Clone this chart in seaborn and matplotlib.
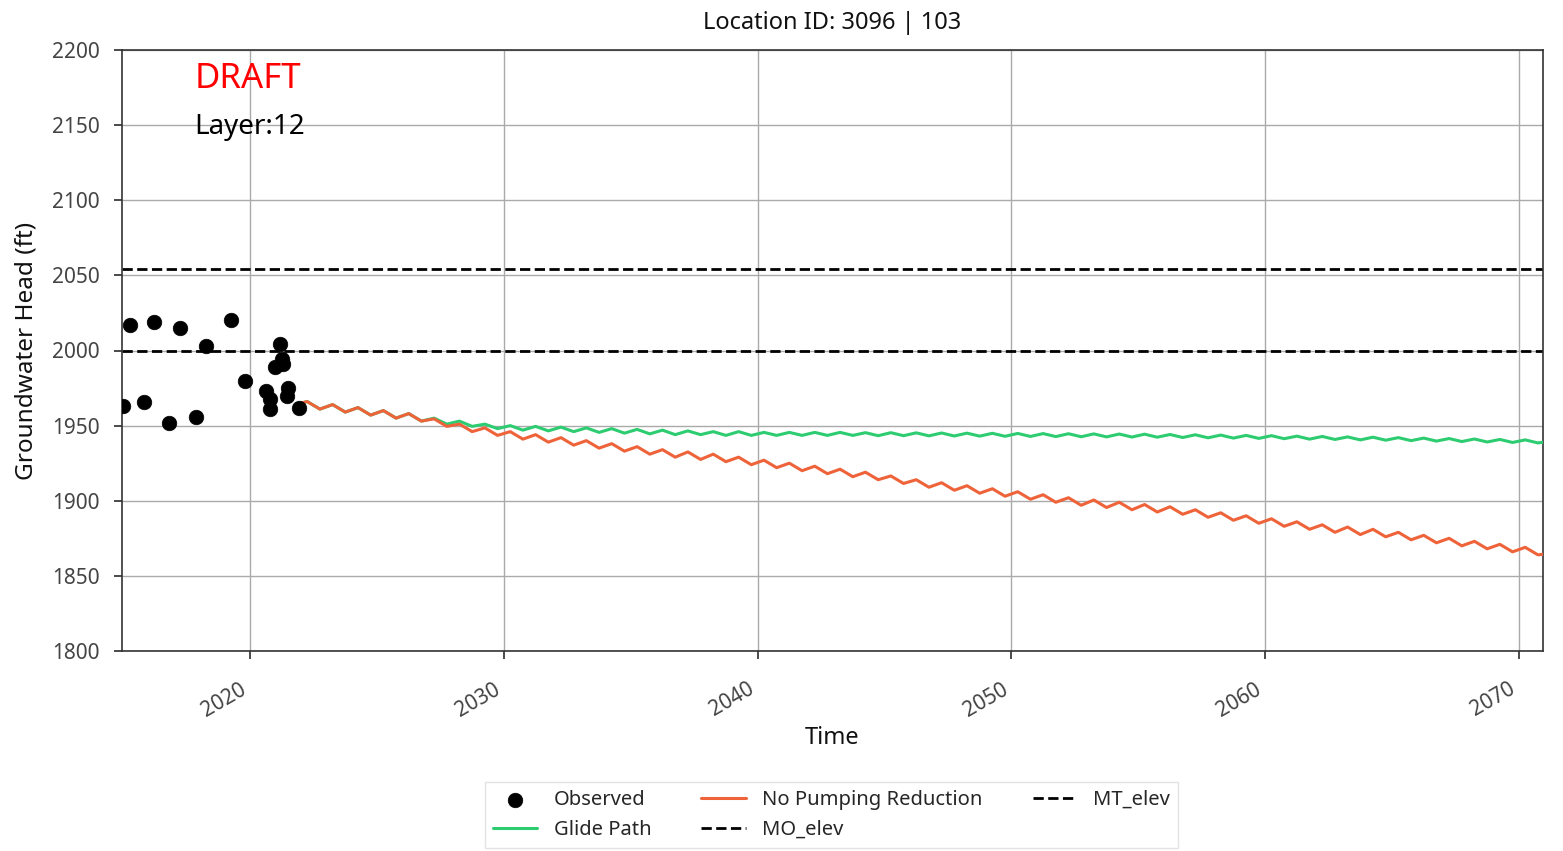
import numpy as np
import pandas as pd
import matplotlib
matplotlib.use("Agg")
import matplotlib.pyplot as plt
import seaborn as sns
from matplotlib.ticker import MultipleLocator, FuncFormatter

# ---------------- data ----------------
obs_time = [2015.0, 2015.25, 2015.83, 2016.23, 2016.82, 2017.24, 2017.87, 2018.27,
            2019.25, 2019.8, 2020.63, 2020.79, 2020.8, 2020.98, 2021.18, 2021.27,
            2021.3, 2021.44, 2021.5, 2021.91]
obs_head = [1963, 2017, 1965.5, 2019, 1951.5, 2015, 1956, 2003,
            2020, 1980, 1973.3, 1961, 1967.8, 1989, 2004, 1994.5,
            1991, 1970, 1975, 1961.8]

# simulated series: seasonal highs (spring) and lows (fall) per year, 2022-2070, then end of run
sim_years = list(range(2022, 2071))
nopump_high = [1966.0, 1964.0, 1962.0, 1960.0, 1958.0, 1954.5, 1951.0, 1948.5, 1946.0, 1944.0,
               1942.0, 1940.0, 1938.0, 1936.0, 1934.0, 1932.5, 1931.0, 1929.0, 1927.0, 1925.0,
               1923.0, 1921.0, 1919.0, 1916.5, 1914.0, 1912.0, 1910.0, 1908.0, 1906.0, 1904.0,
               1902.0, 1900.5, 1899.0, 1897.5, 1896.0, 1894.0, 1892.0, 1890.0, 1888.0, 1886.0,
               1884.0, 1882.5, 1881.0, 1879.0, 1877.0, 1875.0, 1873.0, 1871.0, 1869.0]
nopump_low = [1961.0, 1959.0, 1957.0, 1955.0, 1953.0, 1949.5, 1946.0, 1943.5, 1941.0, 1939.0,
              1937.0, 1935.0, 1933.0, 1931.0, 1929.0, 1927.5, 1926.0, 1924.0, 1922.0, 1920.0,
              1918.0, 1916.0, 1914.0, 1911.5, 1909.0, 1907.0, 1905.0, 1903.0, 1901.0, 1899.0,
              1897.0, 1895.5, 1894.0, 1892.5, 1891.0, 1889.0, 1887.0, 1885.0, 1883.0, 1881.0,
              1879.0, 1877.5, 1876.0, 1874.0, 1872.0, 1870.0, 1868.0, 1866.0, 1864.0]
glide_high = [1966.0, 1964.0, 1962.0, 1960.0, 1958.0, 1955.0, 1953.0, 1951.0, 1950.0, 1949.5,
              1949.0, 1948.5, 1948.0, 1947.5, 1947.0, 1946.5, 1946.0, 1946.0, 1945.5, 1945.5,
              1945.5, 1945.5, 1945.3, 1945.3, 1945.2, 1945.1, 1945.0, 1944.9, 1944.8, 1944.7,
              1944.6, 1944.5, 1944.4, 1944.3, 1944.1, 1943.9, 1943.7, 1943.5, 1943.3, 1943.0,
              1942.8, 1942.5, 1942.3, 1942.0, 1941.7, 1941.4, 1941.1, 1940.8, 1940.5]
glide_low = [1961.0, 1959.0, 1957.0, 1955.0, 1953.0, 1951.0, 1949.5, 1948.0, 1947.0, 1946.5,
             1946.0, 1945.5, 1945.0, 1944.5, 1944.0, 1944.0, 1943.5, 1943.5, 1943.5, 1943.5,
             1943.5, 1943.5, 1943.3, 1943.3, 1943.2, 1943.1, 1943.0, 1942.9, 1942.8, 1942.7,
             1942.6, 1942.5, 1942.4, 1942.3, 1942.1, 1941.9, 1941.7, 1941.5, 1941.3, 1941.0,
             1940.8, 1940.5, 1940.3, 1940.0, 1939.7, 1939.4, 1939.1, 1938.8, 1938.5]
sim_start = (2022.0, 1965.0)
nopump_end = (2071.0, 1864.5)
glide_end = (2071.0, 1939.0)

mo_elev = 2054.0
mt_elev = 2000.0

title = "Location ID: 3096 | 103"
layer_text = "Layer:12"

# ---------------- build series ----------------
def build(high, low, end):
    t = [sim_start[0]]
    v = [sim_start[1]]
    for y, h, l in zip(sim_years, high, low):
        t += [y + 0.25, y + 0.75]
        v += [h, l]
    t.append(end[0]); v.append(end[1])
    return pd.DataFrame({"Time": t, "Head": v})

df_obs = pd.DataFrame({"Time": obs_time, "Head": obs_head})
df_np = build(nopump_high, nopump_low, nopump_end)
df_gp = build(glide_high, glide_low, glide_end)

# ---------------- plot ----------------
sns.set_theme(style="ticks")
plt.rcParams["font.family"] = ["Noto Sans", "DejaVu Sans"]

fig = plt.figure(figsize=(15.63, 8.51), dpi=100)
ax = fig.add_axes([122 / 1563, 1 - 651 / 851, (1543 - 122) / 1563, (651 - 50) / 851])

sns.scatterplot(data=df_obs, x="Time", y="Head", ax=ax, color="black", s=110,
                edgecolor="black", linewidth=0.5, label="Observed", zorder=5)
sns.lineplot(data=df_gp, x="Time", y="Head", ax=ax, color="#2ecc71", linewidth=2.2,
             label="Glide Path", zorder=3)
sns.lineplot(data=df_np, x="Time", y="Head", ax=ax, color="#ee6339", linewidth=2.2,
             label="No Pumping Reduction", zorder=4)
ax.axhline(mo_elev, color="black", linestyle="--", linewidth=2, label="MO_elev", zorder=2)
ax.axhline(mt_elev, color="black", linestyle="--", linewidth=2, label="MT_elev", zorder=2)

ax.set_xlim(2014.95, 2070.95)
ax.set_ylim(1800, 2200)
ax.xaxis.set_major_locator(MultipleLocator(10))
ax.xaxis.set_major_formatter(FuncFormatter(lambda x, p: f"{int(round(x))}"))
ax.yaxis.set_major_locator(MultipleLocator(50))
ax.grid(True, color="#aaaaaa", linewidth=1.0)
for s in ax.spines.values():
    s.set_color("#333333")
    s.set_linewidth(1.2)

ax.tick_params(axis="both", labelsize=15, colors="#333333", labelcolor="#444444")
ax.tick_params(axis="y", pad=10)
ax.tick_params(axis="x", pad=14)
for lab in ax.get_xticklabels():
    lab.set_rotation(30)
    lab.set_ha("right")

ax.set_xlabel("Time", fontsize=17, color="#111111", labelpad=4)
ax.set_ylabel("Groundwater Head (ft)", fontsize=17.5, color="#111111", labelpad=10)
ax.set_title(title, fontsize=17, color="#111111", pad=15)

ax.text(0.051, 0.98, "DRAFT", transform=ax.transAxes, color="red", fontsize=25,
        va="top", ha="left")
ax.text(0.051, 0.895, layer_text, transform=ax.transAxes, color="black", fontsize=20,
        va="top", ha="left")

handles, labels = ax.get_legend_handles_labels()
if ax.legend_:
    ax.legend_.remove()
leg = fig.legend(handles, labels, loc="upper center", bbox_to_anchor=(0.532, 0.093),
                 ncol=3, fontsize=14.5, frameon=True, edgecolor="#dddddd", fancybox=False,
                 columnspacing=2.5, handlelength=2.2, borderpad=0.4, labelspacing=0.5)

fig.savefig("out.png", dpi=100)
